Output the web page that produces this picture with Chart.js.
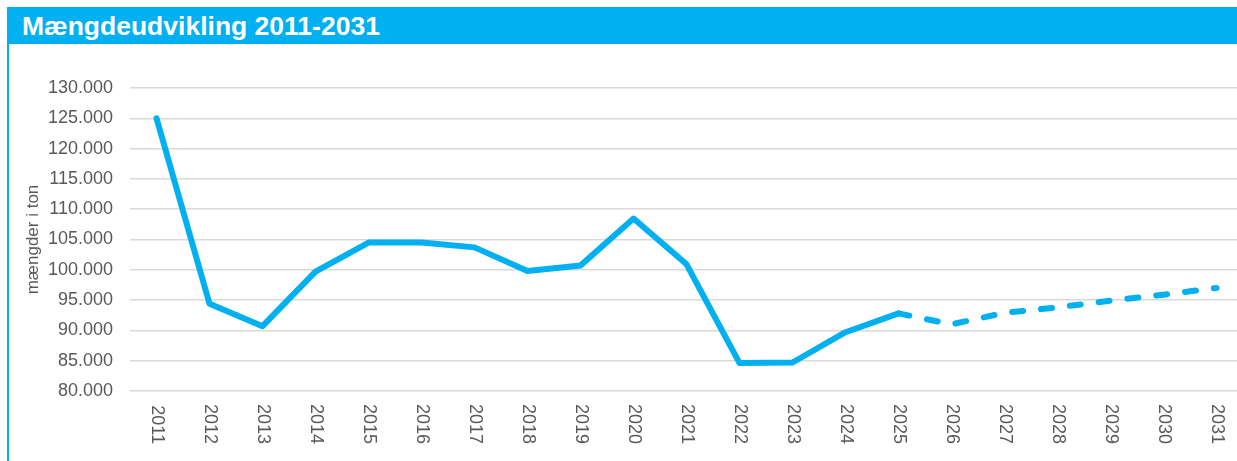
<!DOCTYPE html>
<html>
<head>
<meta charset="utf-8">
<script src="https://cdn.jsdelivr.net/npm/chart.js@4/dist/chart.umd.min.js"></script>
<style>
    html, body { margin: 0; padding: 0; background: #fff; overflow: hidden; }
    body { width: 1237px; height: 461px; position: relative; }
    .frame {
        position: absolute; left: 7px; top: 7px; width: 1240px; height: 460px;
        border-left: 2px solid #00B0F0;
    }
    .header {
        position: absolute; left: 7px; top: 7px; width: 1240px; height: 35px;
        padding-top: 2px;
        background: #00B0F0; color: #fff;
        font: bold 26.5px "Liberation Sans", Arial, sans-serif;
        line-height: 35px;
        box-sizing: content-box;
    }
    .header span { margin-left: 15px; }
    .chart-box { position: absolute; left: 9px; top: 44px; width: 1239px; height: 417px; }
</style>
</head>
<body>
<div class="frame"></div>
<div class="header"><span>Mængdeudvikling 2011-2031</span></div>
<div class="chart-box"><canvas id="chart"></canvas></div>
<script>
// data
const years = ['2011', '2012', '2013', '2014', '2015', '2016', '2017', '2018', '2019', '2020',
    '2021', '2022', '2023', '2024', '2025', '2026', '2027', '2028', '2029', '2030', '2031'];
// 2011-2025, actual amounts (tons)
const actual = [125000, 94400, 90700, 99700, 104500, 104500, 103700, 99800, 100700, 108450,
    100900, 84600, 84700, 89700, 92800];
// 2026-2031, forecast (dashed)
const forecast = [91000, 92900, 93800, 94900, 95900, 97000];
const yMin = 80000;
const yMax = 130000;
const yStep = 5000;
const yTitle = 'mængder i ton';

const BLUE = '#00B0F0';
const GREY = '#595959';
const FONT = '"Liberation Sans", Arial, sans-serif';

// solid part ends at 2025, dashed part starts there
const solidData = years.map((y, i) => i < actual.length ? actual[i] : null);
const dashedData = years.map((y, i) => {
    if (i === actual.length - 1) return actual[i];
    if (i >= actual.length) return forecast[i - actual.length];
    return null;
});

function fmt(v) {
    return String(v).replace(/\B(?=(\d{3})+(?!\d))/g, '.');
}

const ctx = document.getElementById('chart').getContext('2d');
new Chart(ctx, {
    type: 'line',
    data: {
        labels: years,
        datasets: [{
            data: solidData,
            borderColor: BLUE,
            borderWidth: 6,
            borderCapStyle: 'round',
            borderJoinStyle: 'round',
            pointRadius: 0,
            tension: 0
        }, {
            data: dashedData,
            borderColor: BLUE,
            borderWidth: 6,
            borderDash: [11, 18],
            borderCapStyle: 'round',
            borderJoinStyle: 'round',
            pointRadius: 0,
            tension: 0
        }]
    },
    options: {
        responsive: true,
        maintainAspectRatio: false,
        animation: false,
        layout: { padding: { left: 11, top: 44, right: 0, bottom: 0 } },
        plugins: {
            legend: { display: false },
            tooltip: { enabled: false }
        },
        scales: {
            x: {
                offset: true,
                grid: { display: false, drawTicks: false },
                border: { display: false },
                ticks: {
                    color: GREY,
                    font: { family: FONT, size: 18 },
                    // negative rotation -> years read top-to-bottom,
                    // text is right-aligned so padding pushes its end down
                    minRotation: -90,
                    maxRotation: -90,
                    padding: 53,
                    autoSkip: false
                },
                afterFit: (scale) => { scale.height = 70; }
            },
            y: {
                min: yMin,
                max: yMax,
                grid: { color: '#d9d9d9', lineWidth: 1.5, drawTicks: false },
                border: { display: false },
                ticks: {
                    stepSize: yStep,
                    color: GREY,
                    padding: 17,
                    font: { family: FONT, size: 18 },
                    callback: (v) => fmt(v)
                },
                title: {
                    display: true,
                    text: yTitle,
                    color: GREY,
                    font: { family: FONT, size: 17 },
                    padding: { top: 3, bottom: 4 }
                },
                afterFit: (scale) => { scale.width = 110; }
            }
        }
    }
});
</script>
</body>
</html>
